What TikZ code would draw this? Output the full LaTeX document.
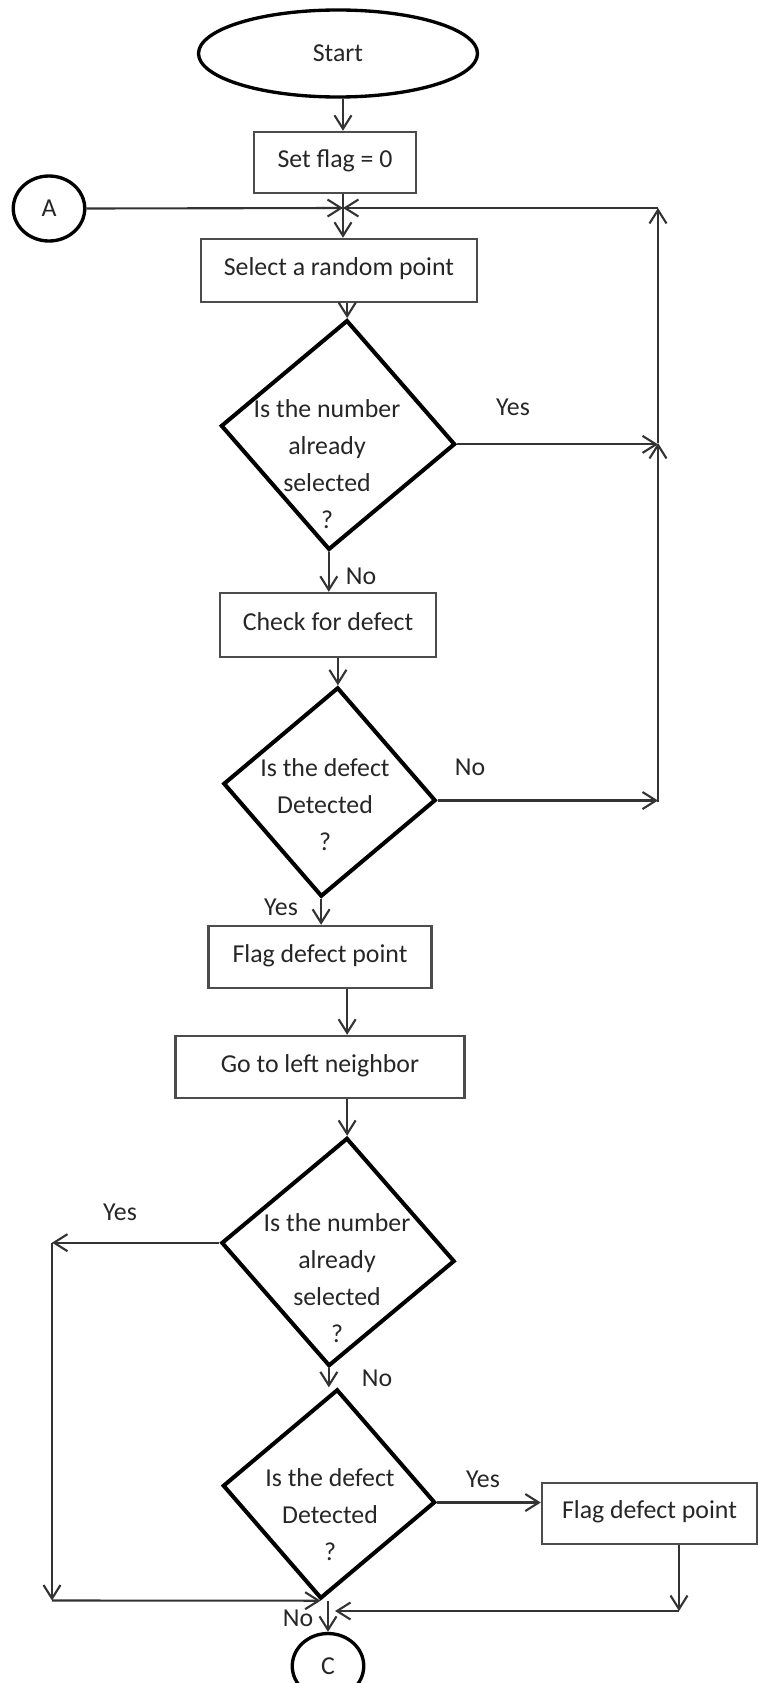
\documentclass[tikz,border=0pt]{standalone}
\usepackage{fontspec}
\setmainfont{Carlito}
\usetikzlibrary{shapes.geometric, arrows.meta}

\begin{document}
\begin{tikzpicture}[font=\fontsize{14.7}{21}\selectfont, text=black!85]

\tikzset{terminal/.style = {shape=ellipse,draw,line width=1.9pt,minimum width=5.58cm,minimum height=1.74cm,inner sep=0pt}}
\tikzset{connector/.style = {shape=ellipse,draw,line width=1.9pt,minimum width=1.43cm,minimum height=1.3cm,inner sep=0pt}}
\tikzset{process/.style = {shape=rectangle,draw=black!70,line width=1.4pt,minimum height=1.24cm,text height=0.36cm,text depth=0.16cm,inner sep=0pt}}
\tikzset{decision/.style = {shape=diamond,draw,line width=2.3pt,inner sep=0pt,rotate=-4.5}}
\tikzset{question/.style = {align=center,inner sep=0pt}}
\tikzset{answer/.style = {inner sep=0pt}}
\tikzset{edge/.style = {->,> = {Straight Barb[length=0.27cm,width=0.34cm]},line width=1.2pt,draw=black!80}}

\useasboundingbox (0,0) rectangle (15.16,-33.66);

%terminals
\node[terminal] (start) at (6.76,-1.07) {Start};
\node[connector] (A) at (0.98,-4.17) {A};
\node[connector] (C) at (6.56,-33.32) {C};

%boxes
\node[process, minimum width=3.24cm, minimum height=1.22cm] (flag) at (6.70,-3.25) {Set flag = 0};
\node[process, minimum width=5.52cm, minimum height=1.26cm] (select) at (6.78,-5.41) {Select a random point};
\node[process, minimum width=4.32cm, minimum height=1.28cm] (check) at (6.56,-12.50) {Check for defect};
\node[process, minimum width=4.46cm] (mark) at (6.40,-19.14) {Flag defect point};
\node[process, minimum width=5.78cm] (left) at (6.40,-21.34) {Go to left neighbor};
\node[process, minimum width=4.30cm, minimum height=1.22cm] (markleft) at (12.99,-30.27) {Flag defect point};

%decisions
\node[decision, minimum width=4.70cm, minimum height=4.61cm] (q1) at (6.76,-8.70) {};
\node[question] (q1t) at (6.54,-9.28) {Is the number\\already\\selected\\?};
\node[decision, minimum width=4.26cm, minimum height=4.20cm] (q2) at (6.59,-15.84) {};
\node[question] (q2t) at (6.50,-16.10) {Is the defect\\Detected\\?};
\node[decision, minimum width=4.68cm, minimum height=4.58cm] (q3) at (6.76,-25.04) {};
\node[question] (q3t) at (6.74,-25.56) {Is the number\\already\\selected\\?};
\node[decision, minimum width=4.26cm, minimum height=4.20cm] (q4) at (6.58,-29.88) {};
\node[question] (q4t) at (6.60,-30.30) {Is the defect\\Detected\\?};

%bends
\coordinate (jA) at (6.86,-4.16);
\coordinate (rtop) at (13.16,-4.16);
\coordinate (rmid) at (13.16,-8.86);
\coordinate (rbot) at (13.16,-16.04);
\coordinate (ltop) at (1.04,-24.86);
\coordinate (lbot) at (1.04,-32.01);
\coordinate (rdrop) at (13.58,-32.22);
\coordinate (jC) at (6.70,-32.22);

%edges
\draw[edge] (start.south -| jA) -- (flag.north -| jA);
\draw[edge] (flag.south -| jA) -- (select.north -| jA);
\draw[edge] (A.east) -- (jA);
\draw[edge] (rbot) -- (rmid);
\draw[edge] (rmid) -- (rtop);
\draw[edge] (rtop) -- (jA);
\draw[edge] (select.south -| q1.north) -- (q1.north);
\draw[edge] (q1.east) -- (q1.east -| rmid);
\draw[edge] (q1.south) -- (q1.south |- check.north);
\draw[edge] (check.south -| q2.north) -- (q2.north);
\draw[edge] (q2.east) -- (q2.east -| rbot);
\draw[edge] (q2.south) -- (q2.south |- mark.north);
\draw[edge] (mark.south -| q3.north) -- (left.north -| q3.north);
\draw[edge] (left.south -| q3.north) -- (q3.north);
\draw[edge] (q3.west) -- (q3.west -| ltop);
\draw[edge] (ltop) -- (lbot);
\draw[edge] (lbot) -- (q4.south);
\draw[edge] (q3.south) -- (q3.south |- q4.north);
\draw[edge] (q4.east) -- (q4.east -| markleft.west);
\draw[edge] (markleft.south -| rdrop) -- (rdrop);
\draw[edge] (rdrop) -- (jC);
\draw[edge] (q4.south -| C.north) -- (C.north);

%answers
\node[answer] (y1) at (10.26,-8.14) {Yes};
\node[answer] (n1) at (7.22,-11.52) {No};
\node[answer] (n2) at (9.40,-15.34) {No};
\node[answer] (y2) at (5.62,-18.14) {Yes};
\node[answer] (y3) at (2.40,-24.24) {Yes};
\node[answer] (n3) at (7.54,-27.56) {No};
\node[answer] (y4) at (9.66,-29.58) {Yes};
\node[answer] (n4) at (5.96,-32.36) {No};

\end{tikzpicture}
\end{document}
